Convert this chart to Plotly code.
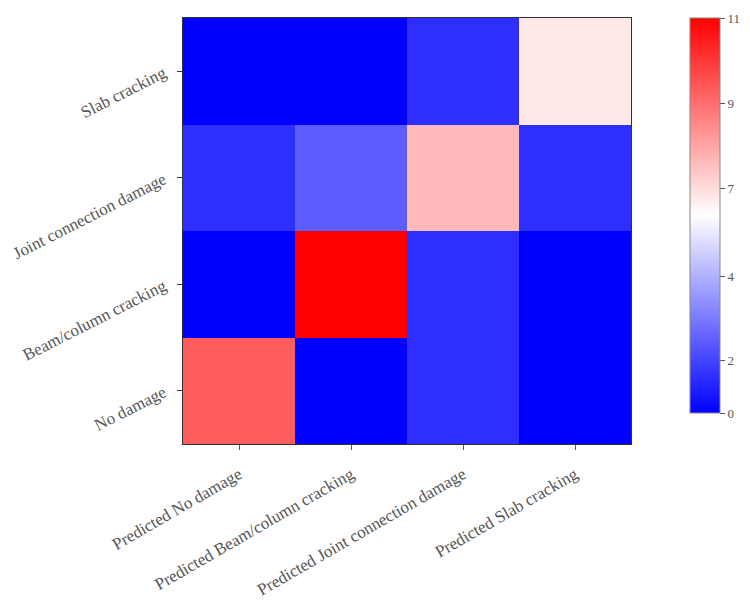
import plotly.graph_objects as go

# Columns (predicted classes) and rows (actual classes, bottom to top)
pred_labels = ["Predicted No damage", "Predicted Beam/column cracking",
               "Predicted Joint connection damage", "Predicted Slab cracking"]
true_labels = ["No damage", "Beam/column cracking", "Joint connection damage", "Slab cracking"]

# Counts, rows ordered bottom -> top as in true_labels
row_no_damage = [9, 0, 1, 0]
row_beam_column = [0, 11, 1, 0]
row_joint = [1, 2, 7, 1]
row_slab = [0, 0, 1, 6]

# Colorbar tick positions and labels as shown in the reference
cbar_tickvals = [0, 1.45, 3.79, 6.24, 8.63, 11]
cbar_ticktext = ["0", "2", "4", "7", "9", "11"]

z = [row_no_damage, row_beam_column, row_joint, row_slab]

font_family = "Liberation Serif, Times New Roman, serif"
text_color = "#555555"

fig = go.Figure(go.Heatmap(
    z=z, x=pred_labels, y=true_labels,
    zmin=0, zmax=11,
    colorscale=[[0, "rgb(0,0,255)"], [0.5, "rgb(255,255,255)"], [1, "rgb(255,0,0)"]],
    xgap=0, ygap=0,
    colorbar=dict(
        thickness=30, thicknessmode="pixels",
        len=395, lenmode="pixels",
        x=1.132, xanchor="left", y=1, yanchor="top",
        outlinewidth=1, outlinecolor="#888888",
        tickvals=cbar_tickvals, ticktext=cbar_ticktext,
        ticks="outside", ticklen=5, tickcolor="#555555",
        tickfont=dict(family=font_family, size=13, color=text_color),
        xpad=0, ypad=0,
    ),
))

# page body has an 8px margin, so the figure is sized to fit inside the window
fig.update_layout(
    width=742, height=593,
    margin=dict(l=175, r=119, t=10, b=157, pad=0, autoexpand=False),
    paper_bgcolor="white", plot_bgcolor="white",
    font=dict(family=font_family, size=17, color=text_color),
)
fig.update_xaxes(
    tickangle=-30, ticks="outside", ticklen=5, tickcolor="#555555",
    showline=True, linecolor="#333333", linewidth=1, mirror=True,
    tickfont=dict(family=font_family, size=17, color=text_color),
    showgrid=False, automargin=False, ticklabelstandoff=8,
)
fig.update_yaxes(
    tickangle=-27, ticks="outside", ticklen=5, tickcolor="#333333",
    showline=True, linecolor="#333333", linewidth=1, mirror=True,
    tickfont=dict(family=font_family, size=17, color=text_color),
    showgrid=False, automargin=False, ticklabelstandoff=10,
)

fig.write_html("out.html")
